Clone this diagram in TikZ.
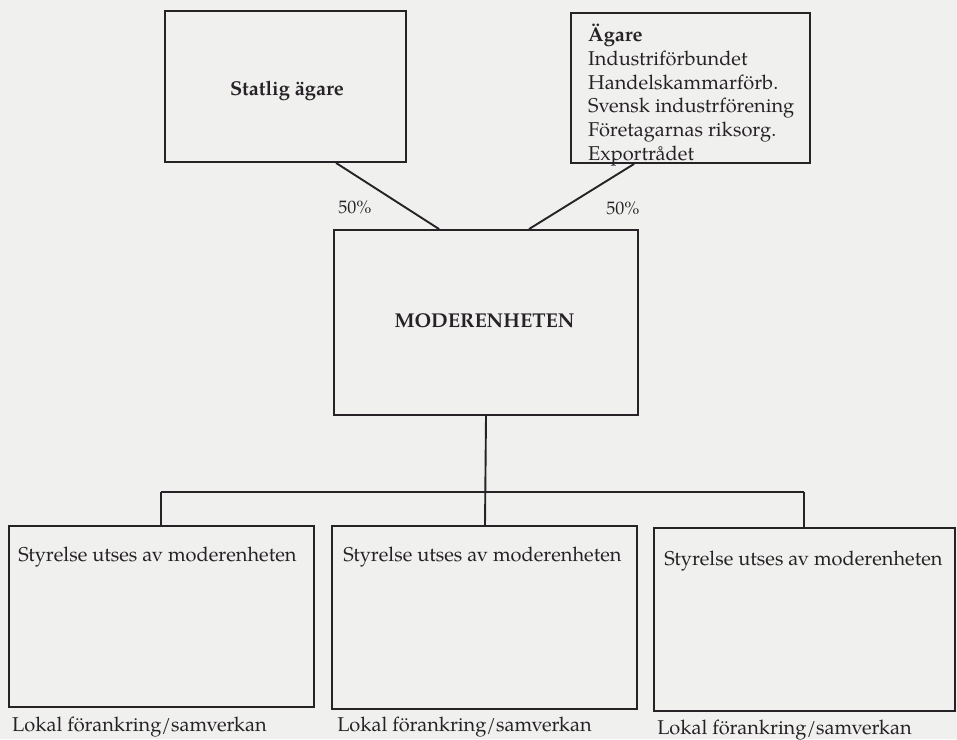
\documentclass[tikz,border=0pt]{standalone}
\usepackage{fontspec}
\setmainfont{TeX Gyre Pagella}
\usetikzlibrary{calc}
\definecolor{paper}{RGB}{240,240,239}
\definecolor{ink}{RGB}{38,34,38}
\begin{document}
\begin{tikzpicture}[x=1pt,y=-1pt,
  box/.style={draw=ink,line width=1.9pt,rectangle,inner sep=0pt,minimum width=#1},
  lbl/.style={text=ink,inner sep=0pt,font=\fontsize{20}{23.7}\selectfont},
  head/.style={lbl,font=\fontsize{20}{23.7}\selectfont\bfseries},
  pct/.style={lbl,font=\fontsize{18}{20}\selectfont},
  link/.style={draw=ink,line width=1.9pt}]
  % page background and size
  \fill[paper] (0,0) rectangle (957,739);
  \useasboundingbox (0,0) rectangle (957,739);

  % owners
  \node[box=241pt,minimum height=151pt] (stat) at (285.5,86.5) {};
  \node[head] (statlbl) at (287,91) {Statlig ägare};
  \node[box=239pt,minimum height=150pt] (agare) at (690.5,88) {};
  \node[lbl,align=left,anchor=north west] (agarelbl) at (588,24)
    {\textbf{Ägare}\\Industriförbundet\\Handelskammarförb.\\Svensk industrförening\\Företagarnas riksorg.\\Exportrådet};

  % parent unit
  \node[box=304pt,minimum height=185pt] (moder) at (486,322.5) {};
  \node[head] (moderlbl) at (484.5,321) {MODERENHETEN};

  % ownership links
  \coordinate (s1) at ($(stat.south west)+(172,0)$);
  \coordinate (m1) at ($(moder.north west)+(106,0)$);
  \coordinate (a1) at ($(agare.south west)+(64,0)$);
  \coordinate (m2) at ($(moder.north west)+(196,0)$);
  \draw[link] (s1) -- (m1);
  \draw[link] (a1) -- (m2);
  \node[pct] (p1) at (355,207) {50\%};
  \node[pct] (p2) at (623,208) {50\%};

  % subsidiaries
  \node[box=305pt,minimum height=181pt] (b1) at (161.5,616.5) {};
  \node[box=305pt,minimum height=183pt] (b2) at (484.5,617.5) {};
  \node[box=301pt,minimum height=183pt] (b3) at (804.5,619.5) {};
  \foreach \b/\dx/\dy in {b1/10/32, b2/12/32, b3/11/34}{
    \node[lbl,anchor=west] (\b top) at ($(\b.north west)+(\dx,\dy)$) {Styrelse utses av moderenheten};
  }
  \foreach \b/\dx/\dy in {b1/4/19, b2/6/17, b3/4/18}{
    \node[lbl,anchor=west] (\b low) at ($(\b.south west)+(\dx,\dy)$) {Lokal förankring/samverkan};
  }

  % distribution bar
  \coordinate (barL) at ($(b1.north west)+(153,-33)$);
  \coordinate (barR) at ($(b3.north west)+(151,-35)$);
  \draw[link] (moder.south) -- ($(b2.north)+(0.5,0)$);
  \draw[link] (barL) -- (barR);
  \draw[link] (barL) -- (barL |- b1.north);
  \draw[link] (barR) -- (barR |- b3.north);
\end{tikzpicture}
\end{document}
